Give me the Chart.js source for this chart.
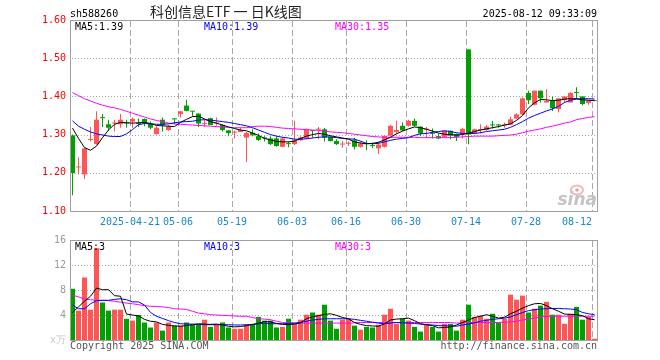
<!DOCTYPE html>
<html><head><meta charset="utf-8">
<script src="https://cdn.jsdelivr.net/npm/chart.js@4.4.1/dist/chart.umd.min.js"></script>
<style>
html,body{margin:0;padding:0;background:#fff;}
#wrap{position:relative;width:660px;height:360px;}
canvas{position:absolute;left:0;top:0;}
</style></head><body>
<div id="wrap"><canvas id="k" width="660" height="360"></canvas><canvas id="v" width="660" height="360"></canvas></div>
<script>
// ---- data ----
const tickIdx = [10,18,27,37,46,56,66,76,87];
const tickLabels = ['2025-04-21','05-06','05-19','06-03','06-16','06-30','07-14','07-28','08-12'];
const priceTicks = [1.10,1.20,1.30,1.40,1.50,1.60];
const volTicks = [0,4,8,12,16];

const opens = [1.298,1.214,1.196,1.286,1.275,1.345,1.327,1.329,1.327,1.330,
 1.334,1.329,1.341,1.329,1.301,1.339,1.312,1.341,1.354,1.376,
 1.361,1.355,1.328,1.343,1.329,1.325,1.311,1.305,1.307,1.292,
 1.305,1.296,1.291,1.290,1.290,1.268,1.276,1.275,1.285,1.290,
 1.310,1.313,1.314,1.294,1.283,1.274,1.276,1.285,1.268,1.276,
 1.271,1.264,1.268,1.297,1.307,1.323,1.323,1.336,1.321,1.313,
 1.303,1.296,1.294,1.310,1.301,1.301,1.523,1.303,1.312,1.312,
 1.325,1.325,1.324,1.326,1.342,1.353,1.409,1.378,1.415,1.384,
 1.388,1.367,1.390,1.384,1.411,1.400,1.383,1.388];
const highs = [1.300,1.241,1.265,1.320,1.361,1.354,1.339,1.339,1.354,1.339,
 1.345,1.342,1.342,1.334,1.323,1.345,1.325,1.342,1.361,1.391,
 1.362,1.356,1.338,1.344,1.345,1.327,1.312,1.311,1.318,1.307,
 1.314,1.303,1.296,1.296,1.296,1.294,1.282,1.336,1.296,1.316,
 1.311,1.320,1.317,1.295,1.288,1.283,1.282,1.292,1.282,1.285,
 1.279,1.281,1.298,1.325,1.336,1.332,1.339,1.342,1.321,1.320,
 1.316,1.302,1.311,1.311,1.303,1.318,1.523,1.315,1.327,1.325,
 1.336,1.327,1.332,1.347,1.356,1.397,1.415,1.415,1.415,1.419,
 1.400,1.395,1.402,1.411,1.424,1.400,1.390,1.390];
const lows = [1.141,1.196,1.183,1.282,1.274,1.320,1.310,1.308,1.318,1.318,
 1.318,1.320,1.322,1.314,1.301,1.308,1.310,1.327,1.345,1.361,
 1.347,1.320,1.320,1.325,1.323,1.308,1.296,1.290,1.307,1.228,
 1.296,1.283,1.282,1.273,1.268,1.267,1.267,1.273,1.284,1.288,
 1.292,1.288,1.282,1.282,1.273,1.266,1.270,1.261,1.266,1.260,
 1.264,1.249,1.266,1.295,1.301,1.310,1.321,1.321,1.296,1.292,
 1.290,1.288,1.292,1.288,1.283,1.290,1.275,1.302,1.303,1.310,
 1.316,1.318,1.318,1.325,1.340,1.351,1.380,1.377,1.384,1.384,
 1.362,1.358,1.385,1.384,1.393,1.377,1.378,1.387];
const closes = [1.199,1.216,1.264,1.288,1.339,1.343,1.318,1.330,1.339,1.329,
 1.341,1.328,1.329,1.318,1.318,1.325,1.321,1.340,1.361,1.362,
 1.360,1.329,1.329,1.325,1.330,1.312,1.304,1.306,1.312,1.304,
 1.298,1.286,1.290,1.275,1.270,1.290,1.275,1.285,1.292,1.314,
 1.309,1.314,1.292,1.283,1.275,1.275,1.277,1.268,1.277,1.275,
 1.270,1.274,1.297,1.323,1.312,1.311,1.336,1.323,1.303,1.314,
 1.302,1.290,1.310,1.297,1.294,1.315,1.300,1.314,1.313,1.321,
 1.324,1.324,1.325,1.340,1.353,1.395,1.390,1.415,1.395,1.388,
 1.369,1.395,1.400,1.409,1.409,1.380,1.389,1.389];

const ma5 = [1.317,1.290,1.266,1.259,1.270,1.292,1.312,1.327,1.332,1.331,
 1.330,1.331,1.332,1.329,1.324,1.323,1.322,1.321,1.332,1.340,
 1.347,1.348,1.341,1.334,1.330,1.325,1.320,1.316,1.312,1.310,
 1.304,1.298,1.290,1.286,1.282,1.281,1.281,1.283,1.290,1.296,
 1.300,1.303,1.301,1.297,1.294,1.291,1.288,1.281,1.278,1.276,
 1.277,1.280,1.286,1.293,1.302,1.309,1.315,1.320,1.318,1.314,
 1.309,1.304,1.301,1.300,1.299,1.300,1.304,1.308,1.312,1.315,
 1.318,1.321,1.325,1.328,1.337,1.350,1.370,1.383,1.392,1.391,
 1.389,1.390,1.393,1.394,1.394,1.391,1.390,1.389];
const ma10 = [1.336,1.322,1.314,1.307,1.302,1.299,1.296,1.295,1.295,1.302,
 1.313,1.326,1.329,1.328,1.327,1.327,1.328,1.331,1.333,1.334,
 1.335,1.338,1.339,1.338,1.336,1.334,1.332,1.329,1.326,1.323,
 1.318,1.312,1.306,1.300,1.296,1.293,1.291,1.288,1.288,1.289,
 1.291,1.293,1.294,1.294,1.292,1.290,1.289,1.288,1.283,1.277,
 1.276,1.277,1.281,1.285,1.288,1.290,1.292,1.298,1.302,1.303,
 1.306,1.308,1.310,1.308,1.305,1.303,1.303,1.303,1.305,1.308,
 1.310,1.312,1.314,1.319,1.326,1.334,1.343,1.350,1.356,1.362,
 1.367,1.374,1.384,1.390,1.393,1.394,1.394,1.393];
const ma30 = [1.410,1.402,1.394,1.388,1.382,1.377,1.373,1.370,1.366,1.361,
 1.356,1.351,1.346,1.341,1.337,1.334,1.330,1.328,1.327,1.326,
 1.325,1.324,1.323,1.322,1.321,1.320,1.319,1.318,1.318,1.318,
 1.321,1.322,1.322,1.321,1.319,1.317,1.316,1.315,1.314,1.313,
 1.312,1.311,1.309,1.307,1.306,1.305,1.303,1.301,1.299,1.297,
 1.295,1.294,1.293,1.293,1.293,1.293,1.293,1.293,1.292,1.292,
 1.292,1.292,1.292,1.292,1.293,1.294,1.295,1.296,1.296,1.296,
 1.296,1.297,1.298,1.299,1.301,1.305,1.309,1.312,1.315,1.319,
 1.322,1.326,1.330,1.333,1.339,1.342,1.345,1.347];

const volumes = [8.2,4.7,10.0,4.85,14.7,6.0,4.7,4.85,4.85,3.4,
 3.1,4.0,2.8,2.0,2.8,1.5,2.8,2.3,2.3,2.8,
 2.45,2.45,3.25,2.1,2.45,2.8,2.0,1.8,1.8,2.45,
 2.45,3.7,3.1,3.1,2.0,2.1,3.4,2.6,3.25,4.05,
 4.4,4.05,5.65,3.1,1.8,3.25,3.4,2.3,1.65,2.1,
 2.0,2.45,4.05,5.0,2.6,3.4,3.1,2.1,1.35,2.45,
 2.1,1.35,2.6,2.6,1.5,3.25,5.65,3.7,3.9,3.4,
 4.2,2.8,3.4,7.25,6.45,7.1,4.4,5.0,5.5,6.1,
 4.05,4.05,2.6,4.2,5.3,3.25,3.7,0.2];
const vma5 = [4.4,5.3,6.2,7.0,8.3,8.05,8.05,7.1,7.0,4.15,
 4.0,3.85,3.3,3.0,2.9,2.5,2.35,2.25,2.2,2.3,
 2.45,2.6,2.55,2.5,2.55,2.4,2.2,2.1,2.15,2.3,
 2.5,2.7,2.95,2.9,2.65,2.5,2.45,2.55,2.75,3.4,
 3.7,3.9,4.1,4.2,3.95,3.6,3.4,2.8,2.5,2.3,
 2.25,2.2,2.6,3.2,3.35,3.4,3.5,3.1,2.6,2.45,
 2.3,1.95,2.0,2.1,2.4,2.8,3.2,3.6,3.8,4.05,
 3.8,3.5,3.65,4.2,4.6,5.1,5.5,5.8,5.85,5.5,
 5.0,4.6,4.15,4.1,4.05,3.9,3.4,3.25];
const vma10 = [5.6,5.0,5.0,5.8,6.3,6.35,6.35,6.5,6.6,6.45,
 6.1,6.1,5.6,4.4,3.8,3.45,3.1,2.8,2.6,2.55,
 2.55,2.5,2.45,2.45,2.45,2.45,2.45,2.4,2.4,2.45,
 2.45,2.6,2.7,2.6,2.6,2.6,2.65,2.7,2.8,3.0,
 3.2,3.3,3.4,3.4,3.4,3.4,3.4,3.3,3.15,3.0,
 2.85,2.7,2.6,2.7,2.8,2.75,2.7,2.65,2.55,2.45,
 2.4,2.3,2.28,2.25,2.2,2.4,2.55,2.75,3.0,3.15,
 3.3,3.4,3.5,3.7,4.05,4.4,4.7,4.85,4.95,5.0,
 5.05,5.05,5.0,4.95,4.85,4.4,4.2,4.05];
const vma30 = [7.2,6.9,6.55,6.45,6.35,6.35,6.3,6.2,6.05,5.9,
 5.8,5.65,5.5,5.4,5.35,5.3,5.2,5.0,4.95,4.9,
 4.6,4.3,4.2,4.05,4.0,3.95,3.9,3.85,3.8,3.8,
 3.6,3.4,3.35,3.25,3.0,2.8,2.75,2.7,2.7,2.7,
 2.7,2.7,2.7,2.7,2.7,2.7,2.7,2.75,2.8,2.8,
 2.8,2.8,2.8,2.8,2.8,2.8,2.8,2.8,2.8,2.8,
 2.8,2.8,2.8,2.8,2.7,2.75,2.8,2.8,2.8,2.8,
 2.8,2.8,2.85,2.9,3.0,3.2,3.35,3.5,3.7,3.75,
 3.8,3.8,3.8,3.8,3.8,3.8,3.8,3.8];

const priceLegend = ['MA5:1.39','MA10:1.39','MA30:1.35'];
const volLegend = ['MA5:3','MA10:3','MA30:3'];

// ---- style ----
const UP = '#ff5555', DOWN = '#00a000';
const MA_COLORS = ['#000000','#0000ff','#ff00ff'];
const MONO = '"DejaVu Sans Mono", monospace';
const N = closes.length;
const SHIFT = 2.5/6;              // gridline sits at left edge of the candle
const X_MIN = -SHIFT, X_MAX = N - SHIFT;
const idx = closes.map((_, i) => i);
const colors = idx.map(i => closes[i] >= opens[i] ? UP : DOWN);
const GRID_COLOR = '#a8a8a8';

function xScale() {
  return {
    type: 'linear', min: X_MIN, max: X_MAX, offset: false,
    grid: { display: false, offset: false, drawTicks: false },
    border: { display: false },
    ticks: { display: false },
    afterBuildTicks: s => { s.ticks = tickIdx.map(i => ({ value: i - SHIFT })); },
    afterFit: s => { s.height = 0; }
  };
}

// grid lines placed through the chart's own scales (dashes drawn as tiny rects)
function makeGridPlugin(yValues) {
  return {
    id: 'gridlines',
    beforeDatasetsDraw(chart) {
      const ctx = chart.ctx, a = chart.chartArea, sx = chart.scales.x, sy = chart.scales.y;
      const L = Math.round(a.left), R = Math.round(a.right), T = Math.round(a.top), B = Math.round(a.bottom);
      ctx.save();
      ctx.fillStyle = GRID_COLOR;
      for (const v of yValues) {
        const py = Math.round(sy.getPixelForValue(v));
        if (py > T + 1 && py < B - 1) {
          for (let x = L + 2; x < R - 1; x += 3) ctx.fillRect(x, py, 1, 1);
        }
      }
      for (const i of tickIdx) {
        const px = Math.round(sx.getPixelForValue(i - SHIFT));
        for (let y = T + 1; y < B; y += 9) ctx.fillRect(px, y, 1, Math.min(6, B - y));
      }
      ctx.restore();
    }
  };
}

const framePlugin = {
  id: 'frame',
  afterDatasetsDraw(chart) {
    const { ctx, chartArea: a } = chart;
    ctx.save();
    ctx.strokeStyle = '#a0a0a0';
    ctx.lineWidth = 1;
    ctx.strokeRect(Math.round(a.left) + 0.5, Math.round(a.top) + 0.5,
      Math.round(a.right - a.left) - 1, Math.round(a.bottom - a.top));
    ctx.restore();
  }
};

function legendText(ctx, texts, y) {
  ctx.font = '10px ' + MONO;
  ctx.textAlign = 'left';
  ctx.textBaseline = 'alphabetic';
  const xs = [75, 204, 335];
  texts.forEach((t, k) => { ctx.fillStyle = MA_COLORS[k]; ctx.fillText(t, xs[k], y); });
}

const kTextPlugin = {
  id: 'ktext',
  beforeDatasetsDraw(chart) {
    const ctx = chart.ctx;
    ctx.save();
    // sina watermark
    ctx.strokeStyle = '#f2b8b8'; ctx.lineWidth = 2;
    ctx.beginPath(); ctx.ellipse(577, 190, 6, 4.5, 0, 0, Math.PI * 2); ctx.stroke();
    ctx.fillStyle = '#e8a0a0';
    ctx.beginPath(); ctx.arc(577, 190, 1.8, 0, Math.PI * 2); ctx.fill();
    ctx.font = 'italic bold 17px "DejaVu Sans", sans-serif';
    ctx.fillStyle = '#c4c4c4';
    ctx.textAlign = 'right'; ctx.textBaseline = 'alphabetic';
    ctx.fillText('sina', 597, 205);
    ctx.restore();
  },
  afterDraw(chart) {
    const ctx = chart.ctx;
    ctx.save();
    ctx.fillStyle = '#000';
    ctx.font = '10px ' + MONO;
    ctx.textBaseline = 'alphabetic';
    ctx.textAlign = 'left';
    ctx.fillText('sh588260', 70, 17);
    ctx.textAlign = 'right';
    ctx.fillText('2025-08-12 09:33:09', 597, 17);
    ctx.textAlign = 'left';
    ctx.fillStyle = '#222';
    ctx.font = '14px "Noto Sans CJK SC", sans-serif';
    ctx.fillText('科创信息ETF 一 日K线图', 150, 17);
    legendText(ctx, priceLegend, 30);
    // date labels
    const sx = chart.scales.x;
    ctx.font = '10px ' + MONO;
    ctx.fillStyle = '#1a88d0';
    tickIdx.forEach((i, k) => {
      const x = sx.getPixelForValue(i - SHIFT);
      ctx.textAlign = (k === tickIdx.length - 1) ? 'right' : 'center';
      ctx.fillText(tickLabels[k], x, 225);
    });
    ctx.restore();
  }
};

const vTextPlugin = {
  id: 'vtext',
  afterDraw(chart) {
    const ctx = chart.ctx;
    ctx.save();
    legendText(ctx, volLegend, 250);
    ctx.font = '10px ' + MONO;
    ctx.fillStyle = '#555';
    ctx.textAlign = 'left';
    ctx.fillText('Copyright 2025 SINA.COM', 70, 349);
    ctx.textAlign = 'right';
    ctx.fillText('http://finance.sina.com.cn', 597, 349);
    ctx.restore();
  }
};

function lineDs(arr, color, order) {
  return { type: 'line', data: idx.map(i => ({ x: i, y: arr[i] })), borderColor: color,
    borderWidth: 1, pointRadius: 0, tension: 0, fill: false, order };
}

function commonOpts(padding) {
  return {
    animation: false, responsive: false, devicePixelRatio: 1, events: [],
    layout: { padding },
    plugins: { legend: { display: false }, tooltip: { enabled: false } }
  };
}

new Chart(document.getElementById('k'), {
  type: 'bar',
  data: {
    datasets: [
      lineDs(ma5, MA_COLORS[0], 0),
      lineDs(ma10, MA_COLORS[1], 1),
      lineDs(ma30, MA_COLORS[2], 2),
      { type: 'bar', data: idx.map(i => ({ x: i, y: [opens[i], closes[i]] })), backgroundColor: colors,
        barThickness: 5, grouped: false, minBarLength: 1, inflateAmount: 0, borderWidth: 0, order: 3 },
      { type: 'bar', data: idx.map(i => ({ x: i, y: [lows[i], highs[i]] })), backgroundColor: colors,
        barThickness: 1, grouped: false, minBarLength: 1, inflateAmount: 0, borderWidth: 0, order: 4 }
    ]
  },
  options: Object.assign(commonOpts({ left: 0, right: 62, top: 20, bottom: 149 }), {
    scales: {
      x: xScale(),
      y: {
        type: 'linear', min: priceTicks[0], max: priceTicks[priceTicks.length - 1],
        afterBuildTicks: s => { s.ticks = priceTicks.map(v => ({ value: v })); },
        ticks: { color: '#ff0000', font: { family: 'DejaVu Sans Mono', size: 10 }, padding: 4,
          autoSkip: false, callback: v => Number(v).toFixed(2) },
        grid: { display: false, drawTicks: false },
        border: { display: false },
        afterFit: s => { s.width = 70; }
      }
    }
  }),
  plugins: [makeGridPlugin(priceTicks), kTextPlugin, framePlugin]
});

new Chart(document.getElementById('v'), {
  type: 'bar',
  data: {
    datasets: [
      lineDs(vma5, MA_COLORS[0], 0),
      lineDs(vma10, MA_COLORS[1], 1),
      lineDs(vma30, MA_COLORS[2], 2),
      { type: 'bar', data: idx.map(i => ({ x: i, y: volumes[i] })), backgroundColor: colors,
        barThickness: 5, grouped: false, inflateAmount: 0, borderWidth: 0, order: 3 }
    ]
  },
  options: Object.assign(commonOpts({ left: 0, right: 62, top: 240, bottom: 20 }), {
    scales: {
      x: xScale(),
      y: {
        type: 'linear', min: volTicks[0], max: volTicks[volTicks.length - 1],
        afterBuildTicks: s => { s.ticks = volTicks.map(v => ({ value: v })); },
        ticks: { color: c => (c.tick && c.tick.value === 0) ? '#c8c8c8' : '#999999',
          font: { family: 'DejaVu Sans Mono', size: 10 }, padding: 4, autoSkip: false,
          callback: v => v === 0 ? 'x万' : String(v) },
        grid: { display: false, drawTicks: false },
        border: { display: false },
        afterFit: s => { s.width = 70; }
      }
    }
  }),
  plugins: [makeGridPlugin(volTicks), vTextPlugin, framePlugin]
});
</script>
</body></html>
